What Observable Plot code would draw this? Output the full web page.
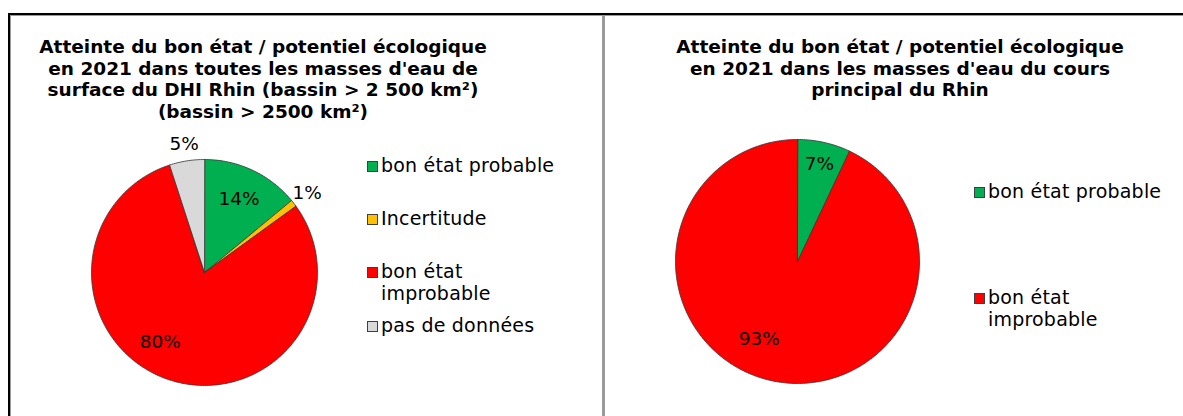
<!DOCTYPE html>
<html>
<head>
<meta charset="utf-8">
<script src="https://cdn.jsdelivr.net/npm/d3@7"></script>
<script src="https://cdn.jsdelivr.net/npm/@observablehq/plot@0.6"></script>
<style>
  body { margin: 0; background: #fff; }
  #root { position: relative; width: 1183px; height: 416px; overflow: hidden; background: #fff;
          font-family: "DejaVu Sans", Verdana, sans-serif; color: #000; }
  .abs { position: absolute; }
  .title { font-weight: bold; font-size: 18.5px; line-height: 21.5px; text-align: center; white-space: nowrap; }
  .leg { font-size: 19px; line-height: 21.5px; white-space: nowrap; letter-spacing: 0.2px; }
  .sw { position: absolute; width: 9px; height: 9px; border: 1px solid #404040; }
  .line { position: absolute; }
</style>
</head>
<body>
<div id="root"></div>
<script>
// ---- data ----
const leftCategories = ["bon état probable", "Incertitude", "bon état improbable", "pas de données"];
const leftValues = [14, 1, 80, 5];
const rightCategories = ["bon état probable", "bon état improbable"];
const rightValues = [7, 93];
const colorDomain = ["bon état probable", "Incertitude", "bon état improbable", "pas de données"];
const colorRange = ["#00B050", "#FFC000", "#FF0000", "#D9D9D9"];
const leftTitle = [
  "Atteinte du bon état / potentiel écologique",
  "en 2021 dans toutes les masses d'eau de",
  "surface du DHI Rhin (bassin > 2 500 km²)",
  "(bassin > 2500 km²)"
];
const rightTitle = [
  "Atteinte du bon état / potentiel écologique",
  "en 2021 dans les masses d'eau du cours",
  "principal du Rhin"
];
const leftLegend = [["bon état probable"], ["Incertitude"], ["bon état", "improbable"], ["pas de données"]];
const rightLegend = [["bon état probable"], ["bon état", "improbable"]];

const root = document.getElementById("root");
const FONT = '"DejaVu Sans", Verdana, sans-serif';

function pie(categories, values, {left, width, height, cx, cy, r}) {
  const arcs = d3.pie().sort(null).value(d => d.v)(categories.map((c, i) => ({c, v: values[i]})));
  const pts = [];
  const labels = [];
  for (const a of arcs) {
    const key = a.data.c;
    pts.push({key, x: 0, y: 0});
    const n = Math.max(2, Math.ceil((a.endAngle - a.startAngle) / (Math.PI / 180)));
    for (let k = 0; k <= n; k++) {
      const t = a.startAngle + (a.endAngle - a.startAngle) * k / n;
      pts.push({key, x: Math.sin(t), y: Math.cos(t)});
    }
    const mid = (a.startAngle + a.endAngle) / 2;
    const v = a.data.v;
    const f = v <= 5 ? 1.15 : v < 10 ? 0.82 : 0.72;
    labels.push({x: f * Math.sin(mid), y: f * Math.cos(mid), text: v + "%", big: v > 50});
  }
  const chart = Plot.plot({
    width, height,
    style: {background: "transparent", overflow: "visible"},
    x: {domain: [-1, 1], range: [cx - r, cx + r], axis: null},
    y: {domain: [-1, 1], range: [cy + r, cy - r], axis: null},
    color: {domain: colorDomain, range: colorRange},
    marks: [
      Plot.line(pts, {x: "x", y: "y", z: "key", fill: "key", stroke: "#333", strokeWidth: 0.8, curve: "linear-closed"}),
      Plot.text(labels.filter(d => !d.big), {x: "x", y: "y", text: "text", fontSize: 18.5, fontFamily: FONT, fill: "#000"}),
      Plot.text(labels.filter(d => d.big), {x: "x", y: "y", text: "text", fontSize: 18.5, fontFamily: FONT, fill: "#000", dx: -19, dy: -8})
    ]
  });
  chart.style.position = "absolute";
  chart.style.left = left + "px";
  chart.style.top = "0px";
  root.appendChild(chart);
}

function title(lines, centerX, top) {
  const d = document.createElement("div");
  d.className = "abs title";
  d.style.left = (centerX - 300) + "px";
  d.style.width = "600px";
  d.style.top = top + "px";
  d.innerHTML = lines.map(s => s.replace(/&/g, "&amp;").replace(/</g, "&lt;").replace(/>/g, "&gt;")).join("<br>");
  root.appendChild(d);
}

function legend(items, x, ys) {
  items.forEach((lines, i) => {
    const key = lines.join(" ");
    const color = colorRange[colorDomain.indexOf(key)];
    const sw = document.createElement("div");
    sw.className = "sw";
    sw.style.left = x + "px";
    sw.style.top = (ys[i] - 5) + "px";
    sw.style.background = color;
    root.appendChild(sw);
    const t = document.createElement("div");
    t.className = "abs leg";
    t.style.left = (x + 14) + "px";
    t.style.top = (ys[i] - 11) + "px";
    t.innerHTML = lines.join("<br>");
    root.appendChild(t);
  });
}

pie(leftCategories, leftValues, {left: 0, width: 600, height: 416, cx: 204, cy: 272, r: 113});
pie(rightCategories, rightValues, {left: 600, width: 583, height: 416, cx: 197, cy: 261, r: 122});

title(leftTitle, 263, 36);
title(rightTitle, 900, 36);

legend(leftLegend, 367, [166, 219, 272, 326]);
legend(rightLegend, 974, [192, 298]);

// panel borders
function line(l, t, w, h, c) {
  const d = document.createElement("div");
  d.className = "line";
  Object.assign(d.style, {left: l + "px", top: t + "px", width: w + "px", height: h + "px", background: c});
  root.appendChild(d);
}
line(8, 13, 1175, 2, "#000");
line(10, 15, 1173, 1, "#9a9a9a");
line(8, 13, 2, 403, "#000");
line(10, 15, 1, 401, "#9a9a9a");
line(602, 15, 3, 401, "#9a9a9a");
</script>
</body>
</html>
